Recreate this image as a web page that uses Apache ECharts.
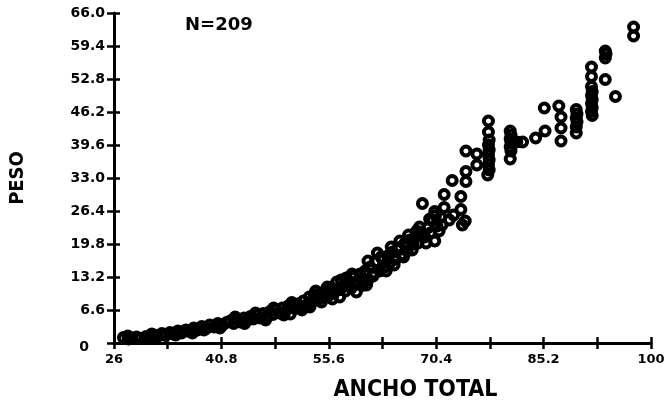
<!DOCTYPE html>
<html>
<head>
<meta charset="utf-8">
<script src="https://cdn.jsdelivr.net/npm/echarts@6/dist/echarts.min.js"></script>
<style>
  html, body { margin: 0; padding: 0; background: #fff; }
  #chart { width: 668px; height: 407px; }
</style>
</head>
<body>
<div id="chart"></div>
<script>
// ejes
var xTicks = [26, 33.4, 40.8, 48.2, 55.6, 63, 70.4, 77.8, 85.2, 92.6, 100];
var xLabels = [26, 40.8, 55.6, 70.4, 85.2, 100];
var yTicks = [0, 6.6, 13.2, 19.8, 26.4, 33, 39.6, 46.2, 52.8, 59.4, 66];

// [ancho total, peso]
var grupoChico = [
  [27.3,1.1],[27.9,1.4],[28.5,1.0],[29.1,1.2],[29.6,0.9],[30.4,1.3],[30.9,1.0],[31.5,1.6],
  [32.0,1.3],[32.6,1.9],[33.1,1.5],[33.7,2.1],[34.2,1.8],[34.8,2.4],[35.3,2.0],[35.9,2.6],
  [36.4,2.3],[37.0,3.0],[37.5,2.6],[38.1,3.3],[38.7,2.9],[39.2,3.6],[39.8,3.2],[40.3,3.9],
  [40.9,3.5],[41.5,4.1],[28.0,0.8],[31.2,1.8],[34.5,1.6],[36.8,2.0],[38.4,2.6],[40.6,3.0]
];
var grupoMedio = [
  [42.0,4.4],[42.5,3.9],[43.0,4.7],[43.4,4.2],[43.9,5.0],[44.3,4.5],[44.8,5.3],[45.2,4.8],
  [45.7,5.6],[46.1,5.0],[46.6,5.9],[47.0,5.3],[47.5,6.3],[47.9,5.7],[48.3,6.6],[48.8,6.0],
  [49.2,7.0],[49.6,6.3],[50.0,7.4],[50.3,5.8],[50.5,8.1],[50.9,6.9],[51.3,7.8],[51.7,7.2],
  [52.1,8.4],[52.5,7.5],[52.9,9.2],[53.2,8.1],[53.6,9.6],[54.0,8.6],[54.4,10.0],[54.8,9.1],
  [55.2,10.4],[55.6,9.5],[56.0,11.0],[56.3,10.0],[56.7,12.2],[57.1,9.2],
  [42.7,5.2],[44.0,3.9],[45.5,6.0],[46.9,4.6],[48.0,7.0],[49.4,5.6],[50.7,7.6],[51.9,6.6],
  [53.0,7.2],[53.8,10.4],[54.6,8.2],[55.4,11.2],[56.1,8.8],[56.9,10.6],[57.3,12.6]
];
var grupoGrande = [
  [57.5,11.2],[57.9,10.4],[58.3,12.0],[58.7,11.0],[59.1,13.2],[59.5,11.8],[59.9,13.8],[60.2,11.5],
  [60.6,14.4],[61.0,12.6],[61.3,15.2],[61.7,13.4],[62.0,16.2],[62.3,18.0],[62.6,14.4],[63.0,16.8],
  [63.3,15.2],[63.7,17.4],[64.0,16.0],[64.4,18.2],[64.8,16.8],[65.2,19.0],[65.6,17.6],[66.0,19.8],
  [66.4,18.4],[66.8,20.6],[67.1,18.6],[67.5,21.2],
  [58.0,13.0],[58.8,13.8],[59.4,10.2],[60.4,12.6],[61.0,16.4],[61.9,14.0],[62.8,17.2],[63.5,14.4],
  [64.2,19.2],[64.6,15.6],[65.4,20.4],[65.9,17.2],[66.6,21.6],[67.2,19.8],[60.8,11.6]
];
var grupoMayor = [
  [67.9,20.0],[68.3,22.0],[68.5,27.9],[68.8,21.2],[69.2,23.0],[69.6,22.0],[69.9,24.6],[70.2,20.4],
  [70.2,26.3],[70.5,23.4],[70.8,22.4],[71.0,25.2],[71.5,27.1],[71.5,29.7],[72.2,24.6],[72.6,32.5],
  [73.8,26.7],[73.8,29.3],[74.0,23.6],[74.4,24.4],[74.5,32.3],[74.5,34.3],[74.5,38.4],[76.0,35.6],
  [76.0,37.8],[70.3,25.5],
  [68.1,23.2],[69.0,20.0],[69.5,24.8],[71.2,23.6],[72.8,25.6],[67.7,22.4]
];
var grupoAdulto = [
  [77.6,44.4],[77.6,42.2],[77.7,40.6],[77.6,39.6],[77.7,38.6],[77.6,37.6],[77.7,36.6],[77.6,35.6],
  [77.7,34.6],[77.5,33.6],
  [80.6,42.4],[80.7,41.6],[80.6,40.8],[80.7,40.0],[80.6,39.2],[80.7,38.4],[80.6,36.8],[81.5,40.2],
  [82.3,40.2],
  [84.1,41.0],[85.4,42.4],[85.3,47.0],[87.3,47.4],[87.6,45.2],[87.6,43.0],[87.6,40.4],
  [89.7,46.7],[89.8,45.8],[89.7,45.0],[89.8,44.2],[89.7,43.2],[89.7,42.0],
  [91.8,55.2],[91.8,53.3],[91.8,51.3],[91.9,50.3],[91.8,49.5],[91.9,48.7],[91.8,47.9],[91.9,47.1],
  [91.8,46.3],[91.9,45.5],
  [93.7,52.7],[95.1,49.3],[93.7,58.4],[93.8,57.8],[93.7,57.0],
  [97.6,63.2],[97.6,61.4]
];

var puntos = grupoChico.concat(grupoMedio, grupoGrande, grupoMayor, grupoAdulto);

var font = '"DejaVu Sans", sans-serif';
var narrow = '"Liberation Sans Narrow", "DejaVu Sans Condensed", "DejaVu Sans", sans-serif';

var myChart = echarts.init(document.getElementById('chart'));
var option = {
  animation: false,
  backgroundColor: '#fff',
  grid: { left: 103, right: 17, top: 13, bottom: 61 },
  graphic: [{
    type: 'text', left: 185, top: 16,
    style: { text: 'N=209', font: 'bold 18px ' + font, fill: '#000' }
  }],
  xAxis: [{
    type: 'value', min: 26, max: 100,
    name: 'ANCHO TOTAL', nameLocation: 'middle', nameGap: 36,
    nameTextStyle: { fontFamily: narrow, fontWeight: 'bold', fontSize: 23, color: '#000', padding: [0, 0, 0, 66] },
    axisLine: { lineStyle: { color: '#000', width: 3 } },
    axisTick: { customValues: xTicks, length: 6, lineStyle: { color: '#000', width: 2.5 } },
    axisLabel: {
      customValues: xLabels, margin: 10, color: '#000',
      fontFamily: font, fontWeight: 'bold', fontSize: 13,
      formatter: function (v) { return String(v); }
    },
    splitLine: { show: false }
  }, {
    type: 'value', min: 26, max: 100, position: 'bottom',
    axisLine: { show: false },
    axisTick: { customValues: xTicks, inside: true, length: 6, lineStyle: { color: '#000', width: 2.5 } },
    axisLabel: { show: false },
    splitLine: { show: false }
  }],
  yAxis: [{
    type: 'value', min: 0, max: 66,
    name: 'PESO', nameLocation: 'middle', nameGap: 86,
    nameTextStyle: { fontFamily: narrow, fontWeight: 'bold', fontSize: 20, color: '#000' },
    axisLine: { lineStyle: { color: '#000', width: 3 } },
    axisTick: { customValues: yTicks, length: 7, lineStyle: { color: '#000', width: 2.5 } },
    axisLabel: {
      customValues: yTicks, margin: 9, color: '#000',
      fontFamily: font, fontWeight: 'bold', fontSize: 14,
      formatter: function (v) { return v === 0 ? '{z|0}' : v.toFixed(1); },
      rich: { z: { fontFamily: font, fontWeight: 'bold', fontSize: 14, color: '#000', padding: [8, 16, 0, 0] } }
    },
    splitLine: { show: false }
  }, {
    type: 'value', min: 0, max: 66, position: 'left',
    axisLine: { show: false },
    axisTick: { customValues: yTicks, inside: true, length: 6, lineStyle: { color: '#000', width: 2.5 } },
    axisLabel: { show: false },
    splitLine: { show: false }
  }],
  series: [{
    type: 'scatter',
    xAxisIndex: 0, yAxisIndex: 0,
    symbol: 'circle',
    symbolSize: 9,
    itemStyle: { color: 'rgba(0,0,0,0)', borderColor: '#000', borderWidth: 4, opacity: 1 },
    data: puntos
  }]
};
myChart.setOption(option);
</script>
</body>
</html>
